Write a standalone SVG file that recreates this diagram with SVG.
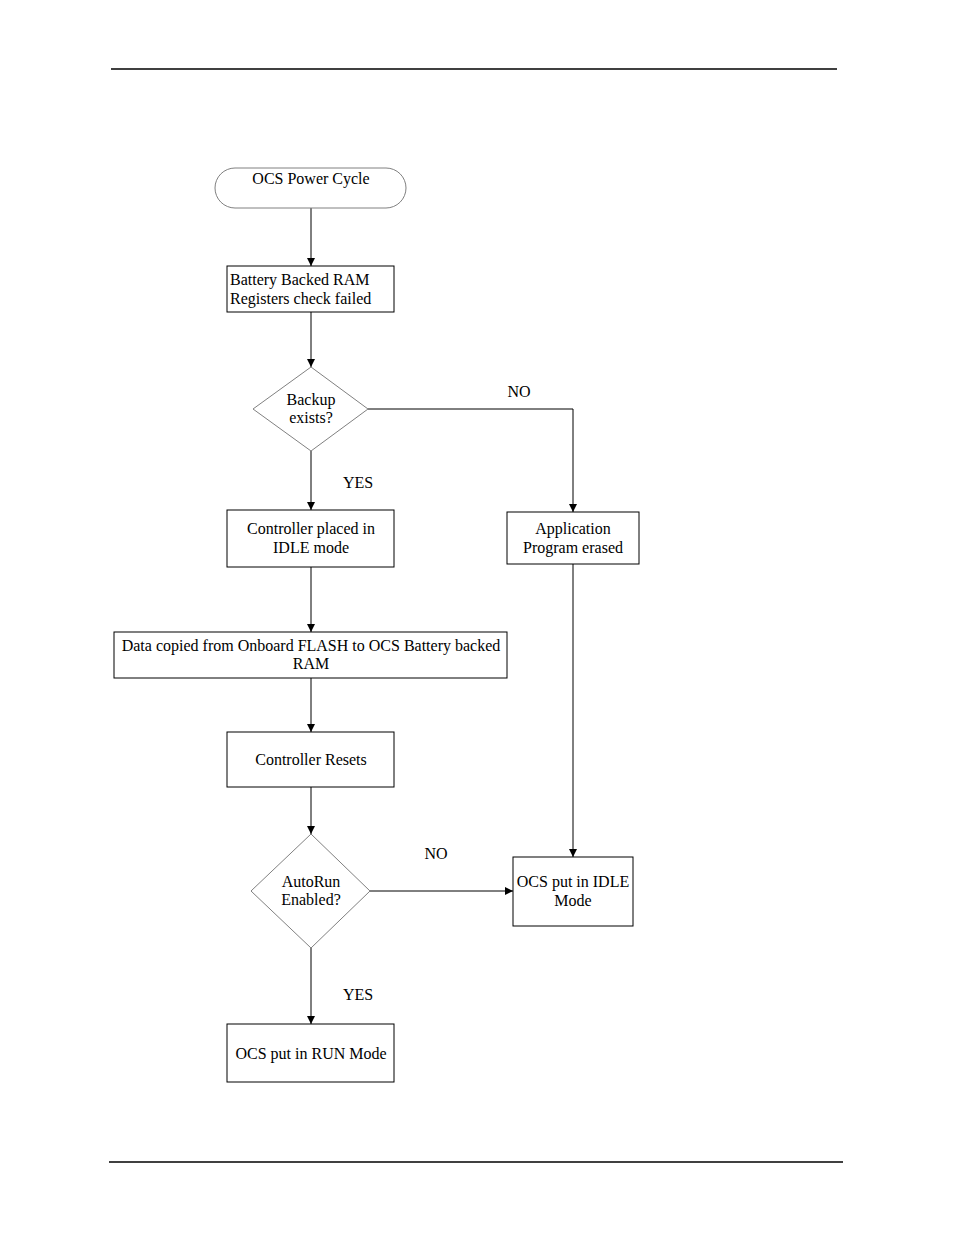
<svg xmlns="http://www.w3.org/2000/svg" width="954" height="1235" viewBox="0 0 954 1235">
<defs>
<style>
text{font-family:"Liberation Serif","Times New Roman",serif;font-size:16px;fill:#000}
.c{text-anchor:middle}
.box{fill:#fff;stroke:#000;stroke-width:1}
.dia{fill:#fff;stroke:#808080;stroke-width:1}
.term{fill:#fff;stroke:#808080;stroke-width:1}
.ln{fill:none;stroke:#000;stroke-width:1}
.rule{stroke:#000;stroke-width:1.3}
</style>
<marker id="ah" viewBox="0 0 10 10" refX="10" refY="5" markerWidth="8" markerHeight="8" markerUnits="userSpaceOnUse" orient="auto">
<path d="M0,0 L10,5 L0,10 z" fill="#000"/>
</marker>
</defs>
<rect width="954" height="1235" fill="#fff"/>
<line class="rule" x1="111" y1="69" x2="837" y2="69"/>
<line class="rule" x1="109" y1="1162" x2="843" y2="1162"/>
<g id="connectors">
<line class="ln" x1="311" y1="208" x2="311" y2="266" marker-end="url(#ah)"/>
<line class="ln" x1="311" y1="312" x2="311" y2="367" marker-end="url(#ah)"/>
<polyline class="ln" points="368,409 573,409 573,512" marker-end="url(#ah)"/>
<line class="ln" x1="311" y1="451" x2="311" y2="510" marker-end="url(#ah)"/>
<line class="ln" x1="311" y1="567" x2="311" y2="632" marker-end="url(#ah)"/>
<line class="ln" x1="311" y1="678" x2="311" y2="732" marker-end="url(#ah)"/>
<line class="ln" x1="311" y1="787" x2="311" y2="834" marker-end="url(#ah)"/>
<line class="ln" x1="370" y1="891" x2="513" y2="891" marker-end="url(#ah)"/>
<line class="ln" x1="573" y1="564" x2="573" y2="857" marker-end="url(#ah)"/>
<line class="ln" x1="311" y1="948" x2="311" y2="1024" marker-end="url(#ah)"/>
<text x="519" y="397" class="c">NO</text>
<text x="358" y="488" class="c">YES</text>
<text x="436" y="859" class="c">NO</text>
<text x="358" y="1000" class="c">YES</text>
</g>
<g id="start">
<rect class="term" x="215" y="168" width="191" height="40" rx="20" ry="20"/>
<text x="311" y="184" class="c">OCS Power Cycle</text>
</g>
<g id="bbram">
<rect class="box" x="227" y="266" width="167" height="46"/>
<text x="230" y="285">Battery Backed RAM</text>
<text x="230" y="304">Registers check failed</text>
</g>
<g id="backup">
<polygon class="dia" points="311,367 368,409 311,451 253,409"/>
<text x="311" y="405" class="c">Backup</text>
<text x="311" y="423" class="c">exists?</text>
</g>
<g id="idle1">
<rect class="box" x="227" y="510" width="167" height="57"/>
<text x="311" y="534" class="c">Controller placed in</text>
<text x="311" y="553" class="c">IDLE mode</text>
</g>
<g id="erased">
<rect class="box" x="507" y="512" width="132" height="52"/>
<text x="573" y="534" class="c">Application</text>
<text x="573" y="553" class="c">Program erased</text>
</g>
<g id="copy">
<rect class="box" x="114" y="632" width="393" height="46"/>
<text x="311" y="651" class="c">Data copied from Onboard FLASH to OCS Battery backed</text>
<text x="311" y="669" class="c">RAM</text>
</g>
<g id="reset">
<rect class="box" x="227" y="732" width="167" height="55"/>
<text x="311" y="765" class="c">Controller Resets</text>
</g>
<g id="autorun">
<polygon class="dia" points="311,834 370,891 311,948 251,891"/>
<text x="311" y="887" class="c">AutoRun</text>
<text x="311" y="905" class="c">Enabled?</text>
</g>
<g id="idle2">
<rect class="box" x="513" y="857" width="120" height="69"/>
<text x="573" y="887" class="c">OCS put in IDLE</text>
<text x="573" y="906" class="c">Mode</text>
</g>
<g id="run">
<rect class="box" x="227" y="1024" width="167" height="58"/>
<text x="311" y="1059" class="c">OCS put in RUN Mode</text>
</g>
</svg>
